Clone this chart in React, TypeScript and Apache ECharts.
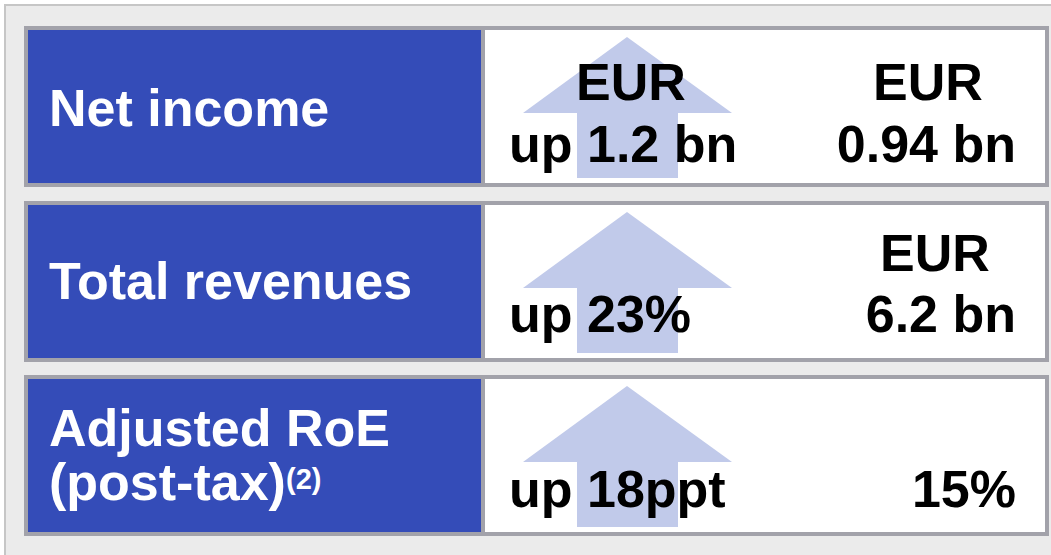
import React, { useEffect, useRef } from "react";
import * as echarts from "echarts";

// ---- content ----
const labelLines: string[][] = [["Net income"], ["Total revenues"], ["Adjusted RoE", "(post-tax)"]];
const labelFootnotes: string[] = ["", "", "(2)"];
const changeUnits: string[] = ["EUR", "", ""];
const changeTexts: string[] = ["up 1.2 bn", "up 23%", "up 18ppt"];
const valueUnits: string[] = ["EUR", "EUR", ""];
const valueTexts: string[] = ["0.94 bn", "6.2 bn", "15%"];

// ---- layout ----
const W = 1051;
const H = 555;
const rowTops = [26, 201, 375];
const rowH = 161;
const labelBaselines: number[][] = [[126], [299], [446, 500]];
const unitBaselines = [100, 271, 0];
const valueBaselines = [162, 332, 507];
const valueUnitCenters = [928, 935, 0];
const FONT = "'Liberation Sans', Arial, Helvetica, sans-serif";
const FS = 52;

const BLUE = "#344cb8";
const ARROW = "#c1caea";
const BORDER = "#a2a2aa";

export default function App() {
  const ref = useRef<HTMLDivElement>(null);
  useEffect(() => {
    if (!ref.current) return;
    const chart = echarts.init(ref.current, null, { renderer: "svg", width: W, height: H });
    const els: any[] = [];
    els.push({
      type: "rect",
      shape: { x: 5, y: 5, width: W + 20, height: H + 20 },
      style: { fill: "#ebebeb", stroke: "#c6c6c6", lineWidth: 2 },
      z: 0,
    });
    const txt = (text: string, x: number, baseline: number, align: string, color: string, size = FS) => ({
      type: "text",
      x,
      y: baseline - size * 0.3465,
      style: {
        text,
        fill: color,
        font: `bold ${size}px ${FONT}`,
        align,
        verticalAlign: "middle",
      },
      z: 10,
    });
    rowTops.forEach((T, i) => {
      els.push({ type: "rect", shape: { x: 24, y: T, width: 1025, height: rowH }, style: { fill: BORDER }, z: 1 });
      els.push({ type: "rect", shape: { x: 28, y: T + 4, width: 453, height: rowH - 8 }, style: { fill: BLUE }, z: 2 });
      els.push({ type: "rect", shape: { x: 485, y: T + 4, width: 560, height: rowH - 8 }, style: { fill: "#ffffff" }, z: 2 });
      els.push({
        type: "polygon",
        shape: {
          points: [
            [627, T + 11],
            [732, T + 87],
            [678, T + 87],
            [678, T + 152],
            [577, T + 152],
            [577, T + 87],
            [523, T + 87],
          ],
        },
        style: { fill: ARROW },
        z: 3,
      });
      labelLines[i].forEach((line, j) => {
        els.push(txt(line, 49, labelBaselines[i][j], "left", "#ffffff"));
      });
      if (labelFootnotes[i]) {
        const last = labelLines[i].length - 1;
        els.push(txt(labelFootnotes[i], 286, labelBaselines[i][last] - 11, "left", "#ffffff", 29));
      }
      if (changeUnits[i]) els.push(txt(changeUnits[i], 631, unitBaselines[i], "center", "#000000"));
      els.push(txt(changeTexts[i], 509, valueBaselines[i], "left", "#000000"));
      if (valueUnits[i]) els.push(txt(valueUnits[i], valueUnitCenters[i], unitBaselines[i], "center", "#000000"));
      els.push(txt(valueTexts[i], 1016, valueBaselines[i], "right", "#000000"));
    });
    chart.setOption({ animation: false, graphic: { elements: els } });
    return () => chart.dispose();
  }, []);
  return <div ref={ref} style={{ position: "fixed", left: 0, top: 0, width: W, height: H, background: "#ffffff" }} />;
}
